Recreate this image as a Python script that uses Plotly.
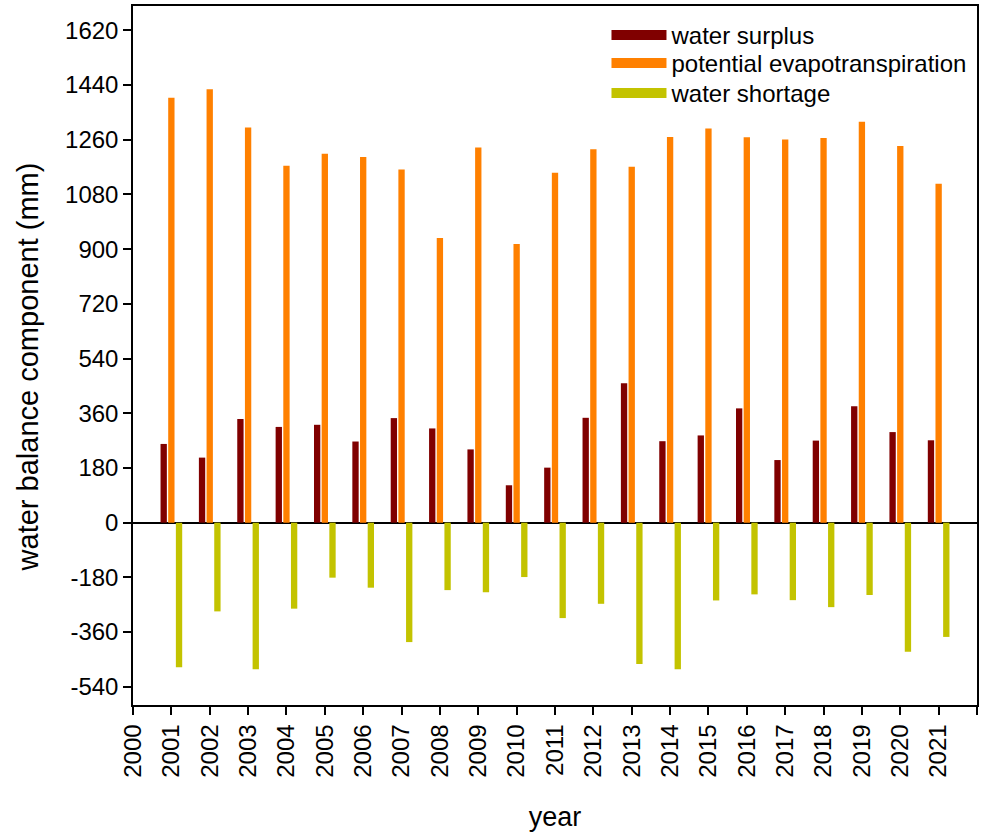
import plotly.graph_objects as go

years = list(range(2001, 2022))
water_surplus = [259, 214, 341, 315, 322, 267, 344, 310, 241, 123, 181,
                 345, 459, 268, 287, 376, 206, 270, 383, 298, 271]
potential_et = [1398, 1426, 1300, 1174, 1214, 1203, 1162, 937, 1234, 917, 1151,
                1229, 1171, 1269, 1297, 1268, 1261, 1266, 1319, 1239, 1115]
water_shortage = [-476, -292, -482, -283, -181, -214, -393, -222, -229, -179, -314,
                  -267, -465, -482, -256, -236, -255, -278, -238, -425, -376]

series_names = ["water surplus", "potential evapotranspiration", "water shortage"]
series_colors = ["#800000", "#FF8000", "#C3C300"]
legend_ids = ["legend", "legend2", "legend3"]
legend_y = [0.958, 0.918, 0.875]

x_ticks = list(range(2000, 2023))
y_ticks = list(range(-540, 1621, 180))

FONT = "Liberation Sans, Arial, sans-serif"

fig = go.Figure()
for name, vals, col in zip(series_names, [water_surplus, potential_et, water_shortage], series_colors):
    fig.add_trace(go.Bar(x=years, y=vals, name=name, showlegend=False,
                         marker=dict(color=col, line=dict(width=0))))
# legend-only entries with wide rectangular swatches
for name, col, lid in zip(series_names, series_colors, legend_ids):
    fig.add_trace(go.Scatter(x=[None], y=[None], mode="lines", name=name,
                             line=dict(color=col, width=18), showlegend=True,
                             legend=lid, hoverinfo="skip"))

legend_style = dict(x=0.561, xanchor="left", yanchor="middle",
                    bgcolor="rgba(0,0,0,0)", font=dict(size=24), itemwidth=55)

fig.update_layout(
    width=985, height=833,
    margin=dict(l=133, r=8, t=6, b=128, autoexpand=False),
    paper_bgcolor="white", plot_bgcolor="white",
    barmode="group", bargap=0.4, bargroupgap=0.175,
    font=dict(family=FONT, size=24, color="black"),
    legend=dict(y=legend_y[0], **legend_style),
    legend2=dict(y=legend_y[1], **legend_style),
    legend3=dict(y=legend_y[2], **legend_style),
    showlegend=True,
    annotations=[dict(text="water balance component (mm)", textangle=-90,
                      xref="paper", yref="paper", x=-0.1244, y=0.483,
                      xanchor="center", yanchor="middle", showarrow=False,
                      font=dict(size=29))],
)
fig.update_xaxes(
    range=[2000, 2022], tickmode="array", tickvals=x_ticks,
    ticktext=[str(v) for v in x_ticks], tickangle=-90,
    ticks="outside", ticklen=8, tickwidth=1.5, tickcolor="black",
    showline=True, linecolor="black", linewidth=1.5, mirror=True,
    showgrid=False, zeroline=False, automargin=False,
    title=dict(text="year", font=dict(size=27), standoff=30),
    tickfont=dict(size=24),
)
fig.update_yaxes(
    range=[-600, 1700], tickmode="array", tickvals=y_ticks,
    ticktext=[str(v) for v in y_ticks],
    ticks="outside", ticklen=8, tickwidth=1.5, tickcolor="black",
    showline=True, linecolor="black", linewidth=1.5, mirror=True,
    showgrid=False, zeroline=True, zerolinecolor="black", zerolinewidth=1.5,
    automargin=False,
    tickfont=dict(size=24),
)

fig.write_html("out.html", post_script="document.body.style.margin='0';",
               config={"displayModeBar": False})
